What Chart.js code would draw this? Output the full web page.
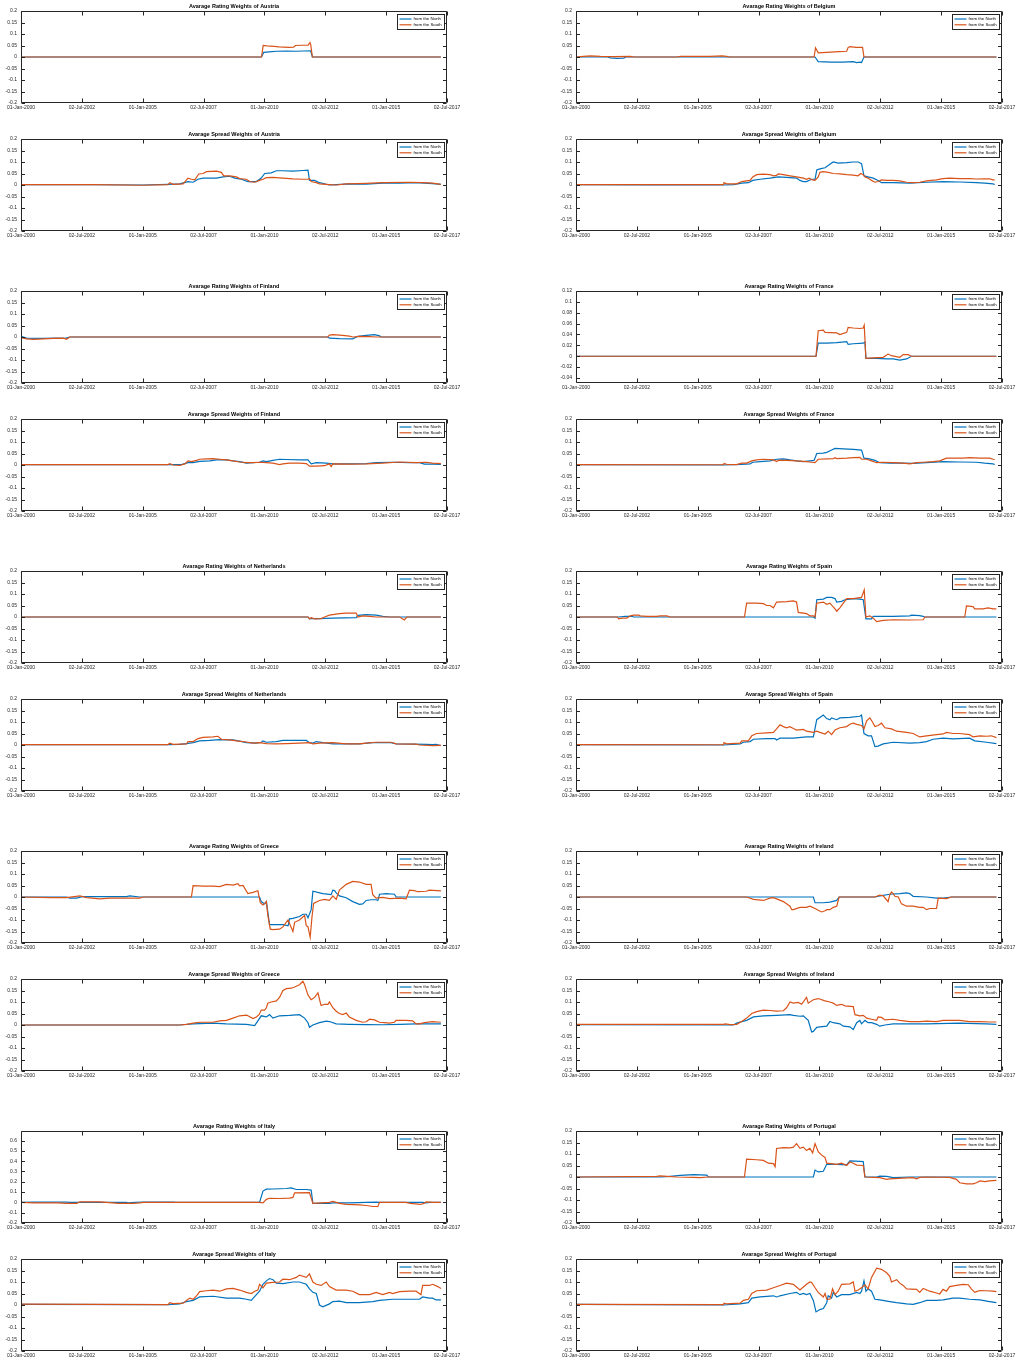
<!DOCTYPE html>
<html>
<head>
<meta charset="utf-8">
<title>Average Rating and Spread Weights</title>
<script src="https://cdn.jsdelivr.net/npm/chart.js@4.4.1/dist/chart.umd.min.js"></script>
<style>
  html, body { margin: 0; padding: 0; background: #ffffff; }
  #page { position: relative; width: 1020px; height: 1361px; overflow: hidden; background: #ffffff; }
  #page canvas { position: absolute; }
</style>
</head>
<body>
<div id="page"></div>
<script>
// ---------------------------------------------------------------------------
// Axis ticks and labels
// ---------------------------------------------------------------------------
const xTickYears = [2000, 2002.5, 2005, 2007.5, 2010, 2012.5, 2015, 2017.5];
const xTickLabels = ['01-Jan-2000', '02-Jul-2002', '01-Jan-2005', '02-Jul-2007',
                     '01-Jan-2010', '02-Jul-2012', '01-Jan-2015', '02-Jul-2017'];
const defaultYTicks = [-0.2, -0.15, -0.1, -0.05, 0, 0.05, 0.1, 0.15, 0.2];
const franceRatingYTicks = [-0.04, -0.02, 0, 0.02, 0.04, 0.06, 0.08, 0.1, 0.12];
const italyRatingYTicks = [-0.2, -0.1, 0, 0.1, 0.2, 0.3, 0.4, 0.5, 0.6];
const seriesNames = ['from the North', 'from the South'];
const leftCountries = ['Austria', 'Finland', 'Netherlands', 'Greece', 'Italy'];
const rightCountries = ['Belgium', 'France', 'Spain', 'Ireland', 'Portugal'];

// ---------------------------------------------------------------------------
// Series: [decimal year, weight]
// ---------------------------------------------------------------------------
const austriaRatingNorth = [[2000,0],[2009.88,0],[2009.97,0.02],[2010.2,0.022],[2010.5,0.025],[2010.9,0.026],[2011.3,0.025],[2011.6,0.026],[2011.9,0.027],[2011.97,0],[2017.25,0]];
const austriaRatingSouth = [[2000,0],[2009.88,0],[2009.95,0.05],[2010.1,0.048],[2010.4,0.046],[2010.6,0.044],[2011.0,0.042],[2011.2,0.043],[2011.27,0.05],[2011.5,0.051],[2011.8,0.052],[2011.87,0.063],[2011.9,0.055],[2011.97,0],[2017.25,0]];
const austriaSpreadNorth = [[2000,0.001],[2003,0.001],[2005,0.0],[2006.04,0.003],[2006.52,0.005],[2006.86,0.015],[2007.07,0.012],[2007.27,0.025],[2007.48,0.03],[2008.03,0.03],[2008.3,0.035],[2008.57,0.038],[2008.78,0.03],[2009.05,0.025],[2009.32,0.015],[2009.67,0.015],[2009.87,0.03],[2010.01,0.05],[2010.28,0.053],[2010.49,0.062],[2010.76,0.062],[2011.17,0.06],[2011.58,0.063],[2011.79,0.065],[2011.85,0.02],[2012.06,0.02],[2012.26,0.01],[2012.67,0.0],[2012.95,0.002],[2013.49,0.005],[2014.18,0.004],[2014.86,0.008],[2015.55,0.008],[2016.23,0.01],[2016.91,0.006],[2017.25,0.003]];
const austriaSpreadSouth = [[2000,0.002],[2003,0.002],[2005,-0.001],[2006.04,0.002],[2006.11,0.01],[2006.25,0.003],[2006.66,0.005],[2006.86,0.03],[2007.0,0.025],[2007.14,0.022],[2007.3,0.048],[2007.48,0.05],[2007.62,0.058],[2008.03,0.06],[2008.23,0.055],[2008.33,0.04],[2008.57,0.04],[2008.85,0.035],[2008.98,0.028],[2009.26,0.025],[2009.39,0.015],[2009.6,0.012],[2009.8,0.02],[2009.94,0.025],[2010.08,0.032],[2010.35,0.033],[2010.76,0.03],[2011.17,0.027],[2011.58,0.025],[2011.79,0.025],[2011.85,0.028],[2011.92,0.015],[2012.13,0.01],[2012.26,0.005],[2012.67,0.002],[2012.95,0.0],[2013.36,0.005],[2014.18,0.007],[2014.86,0.01],[2015.96,0.012],[2016.5,0.01],[2016.91,0.008],[2017.25,0.003]];

const belgiumRatingNorth = [[2000,0],[2001.3,0],[2001.41,-0.004],[2001.7,-0.006],[2001.96,-0.005],[2002.05,0],[2009.82,0],[2009.95,-0.02],[2010.5,-0.022],[2010.98,-0.022],[2011.39,-0.02],[2011.53,-0.024],[2011.66,-0.022],[2011.73,-0.024],[2011.83,0],[2017.27,0]];
const belgiumRatingSouth = [[2000,0],[2000.31,0.003],[2000.6,0.005],[2001.0,0.003],[2001.5,0.002],[2002.23,0.003],[2002.4,0],[2004.14,0],[2004.3,0.003],[2005.5,0.003],[2006.0,0.005],[2006.19,0.003],[2006.3,0],[2009.78,0],[2009.84,0.04],[2009.95,0.018],[2010.3,0.02],[2010.8,0.023],[2011.12,0.025],[2011.18,0.042],[2011.25,0.045],[2011.5,0.042],[2011.77,0.042],[2011.83,0],[2017.27,0]];
const belgiumSpreadNorth = [[2000,0.001],[2003,0.0],[2006.06,0.0],[2006.47,0.002],[2006.81,0.008],[2007.08,0.01],[2007.26,0.02],[2007.56,0.025],[2007.97,0.03],[2008.31,0.035],[2008.65,0.033],[2009.06,0.03],[2009.2,0.02],[2009.34,0.015],[2009.47,0.015],[2009.68,0.025],[2009.82,0.025],[2009.89,0.065],[2010.02,0.07],[2010.23,0.075],[2010.43,0.09],[2010.57,0.1],[2010.77,0.095],[2011.12,0.097],[2011.39,0.1],[2011.59,0.1],[2011.73,0.093],[2011.83,0.04],[2012.0,0.035],[2012.21,0.03],[2012.41,0.02],[2012.55,0.01],[2013.03,0.01],[2013.71,0.008],[2014.4,0.012],[2015.08,0.015],[2015.76,0.013],[2016.45,0.01],[2016.79,0.008],[2017.13,0.005],[2017.2,0.002]];
const belgiumSpreadSouth = [[2000,0.002],[2003,0.002],[2006.06,0.002],[2006.08,0.01],[2006.19,0.005],[2006.6,0.005],[2006.81,0.015],[2007.01,0.018],[2007.15,0.02],[2007.26,0.035],[2007.42,0.045],[2007.7,0.047],[2007.97,0.045],[2008.11,0.04],[2008.24,0.042],[2008.31,0.048],[2008.52,0.045],[2008.79,0.04],[2009.06,0.035],[2009.34,0.03],[2009.47,0.025],[2009.58,0.03],[2009.71,0.022],[2009.82,0.02],[2009.95,0.035],[2010.02,0.055],[2010.16,0.058],[2010.36,0.055],[2010.57,0.05],[2010.84,0.048],[2011.12,0.045],[2011.39,0.043],[2011.59,0.04],[2011.69,0.05],[2011.8,0.045],[2011.87,0.035],[2012.0,0.03],[2012.14,0.02],[2012.28,0.012],[2012.41,0.015],[2012.55,0.022],[2012.76,0.02],[2013.03,0.02],[2013.3,0.018],[2013.58,0.012],[2013.85,0.01],[2014.12,0.012],[2014.4,0.018],[2014.81,0.022],[2015.08,0.028],[2015.35,0.03],[2015.76,0.028],[2016.17,0.028],[2016.45,0.026],[2016.79,0.027],[2016.99,0.027],[2017.13,0.022],[2017.2,0.022]];

const finlandRatingNorth = [[2000,0.003],[2000.23,-0.005],[2000.92,-0.006],[2001.46,-0.005],[2001.8,-0.006],[2002.01,0],[2012.6,0],[2012.67,-0.005],[2013.08,-0.007],[2013.63,-0.008],[2013.84,0.003],[2014.18,0.007],[2014.52,0.01],[2014.73,0.005],[2014.79,0],[2017.25,0]];
const finlandRatingSouth = [[2000,-0.003],[2000.23,-0.008],[2000.51,-0.01],[2000.92,-0.008],[2001.33,-0.006],[2001.74,-0.005],[2001.87,-0.01],[2002.01,0],[2012.6,0],[2012.67,0.008],[2012.81,0.01],[2013.22,0.007],[2013.49,0.004],[2013.63,0.0],[2013.9,0.003],[2014.32,0.002],[2014.59,0],[2017.25,0]];
const finlandSpreadNorth = [[2000,0.002],[2006.04,0.002],[2006.59,0.002],[2006.86,0.01],[2007.07,0.01],[2007.34,0.016],[2007.75,0.018],[2008.03,0.022],[2008.44,0.022],[2008.71,0.018],[2008.98,0.015],[2009.26,0.008],[2009.53,0.01],[2009.8,0.012],[2009.94,0.018],[2010.08,0.015],[2010.35,0.02],[2010.62,0.025],[2010.9,0.024],[2011.44,0.022],[2011.79,0.022],[2011.92,0.005],[2012.13,0.01],[2012.54,0.008],[2012.81,0.005],[2013.49,0.005],[2014.18,0.006],[2014.59,0.01],[2015.27,0.012],[2015.96,0.01],[2016.37,0.01],[2016.57,0.004],[2016.91,0.004],[2017.25,0.003]];
const finlandSpreadSouth = [[2000,0.002],[2006.04,0.002],[2006.11,0.006],[2006.25,0.0],[2006.52,-0.002],[2006.73,0.005],[2006.86,0.018],[2007.0,0.015],[2007.21,0.02],[2007.34,0.025],[2007.62,0.027],[2007.89,0.028],[2008.16,0.025],[2008.44,0.022],[2008.71,0.018],[2008.98,0.013],[2009.26,0.01],[2009.53,0.01],[2009.8,0.012],[2010.08,0.01],[2010.35,0.008],[2010.62,0.002],[2010.76,0.005],[2011.03,0.008],[2011.44,0.008],[2011.72,0.006],[2011.85,-0.005],[2012.13,-0.005],[2012.47,-0.003],[2012.67,0.005],[2012.74,-0.007],[2012.81,0.005],[2013.49,0.004],[2014.18,0.005],[2014.86,0.008],[2015.55,0.013],[2016.23,0.01],[2016.64,0.012],[2016.91,0.008],[2017.25,0.006]];

const franceRatingNorth = [[2000,0],[2009.86,0],[2009.95,0.024],[2010.3,0.024],[2010.71,0.025],[2011.12,0.027],[2011.18,0.022],[2011.39,0.023],[2011.8,0.024],[2011.87,0.026],[2011.91,-0.004],[2012.35,-0.004],[2012.76,-0.005],[2013.03,-0.005],[2013.3,-0.007],[2013.58,-0.005],[2013.78,0],[2017.27,0]];
const franceRatingSouth = [[2000,0],[2009.86,0],[2009.95,0.047],[2010.16,0.048],[2010.23,0.044],[2010.71,0.043],[2010.84,0.04],[2011.12,0.044],[2011.18,0.053],[2011.39,0.052],[2011.66,0.051],[2011.8,0.052],[2011.84,0.057],[2011.91,-0.004],[2012.21,-0.003],[2012.62,-0.002],[2012.82,0.004],[2012.96,0.001],[2013.3,-0.002],[2013.44,0.003],[2013.65,0.003],[2013.78,0],[2017.27,0]];
const franceSpreadNorth = [[2000,0.001],[2006.06,0.0],[2006.81,0.003],[2007.15,0.005],[2007.26,0.012],[2007.56,0.015],[2007.97,0.018],[2008.24,0.025],[2008.52,0.027],[2008.79,0.022],[2009.06,0.018],[2009.34,0.015],[2009.61,0.018],[2009.78,0.02],[2009.89,0.05],[2010.16,0.052],[2010.3,0.055],[2010.5,0.065],[2010.64,0.072],[2010.98,0.07],[2011.39,0.068],[2011.73,0.065],[2011.83,0.03],[2012.0,0.028],[2012.28,0.02],[2012.48,0.01],[2012.89,0.008],[2013.3,0.008],[2013.85,0.007],[2014.4,0.01],[2015.08,0.015],[2015.76,0.013],[2016.45,0.012],[2016.79,0.008],[2017.13,0.005],[2017.2,0.002]];
const franceSpreadSouth = [[2000,0.002],[2006.06,0.001],[2006.08,0.007],[2006.19,0.003],[2006.6,0.002],[2006.81,0.008],[2007.01,0.008],[2007.22,0.018],[2007.42,0.022],[2007.7,0.025],[2008.11,0.022],[2008.24,0.015],[2008.31,0.02],[2008.65,0.02],[2009.06,0.018],[2009.47,0.015],[2009.68,0.012],[2009.82,0.01],[2009.95,0.025],[2010.3,0.027],[2010.57,0.028],[2010.64,0.032],[2010.71,0.028],[2011.12,0.03],[2011.39,0.032],[2011.66,0.033],[2011.73,0.025],[2011.94,0.025],[2012.14,0.018],[2012.35,0.01],[2012.62,0.012],[2013.03,0.01],[2013.44,0.008],[2013.71,0.005],[2013.99,0.01],[2014.26,0.012],[2014.67,0.015],[2014.94,0.018],[2015.22,0.03],[2015.63,0.03],[2015.9,0.03],[2016.17,0.032],[2016.59,0.03],[2016.99,0.03],[2017.13,0.025],[2017.2,0.024]];

const netherlandsRatingNorth = [[2000,0],[2011.79,0],[2011.85,-0.007],[2012.26,-0.007],[2012.81,-0.005],[2013.77,-0.003],[2013.84,0.007],[2014.18,0.01],[2014.59,0.008],[2014.86,0.003],[2015.14,0],[2017.25,0]];
const netherlandsRatingSouth = [[2000,0],[2011.79,0],[2011.85,-0.008],[2011.92,-0.003],[2012.06,-0.008],[2012.33,-0.007],[2012.47,0],[2012.67,0.008],[2013.08,0.015],[2013.36,0.017],[2013.77,0.017],[2013.84,0],[2014.04,0.005],[2014.32,0.003],[2014.59,0],[2015.55,0],[2015.75,-0.013],[2015.85,0],[2017.25,0]];
const netherlandsSpreadNorth = [[2000,0.002],[2006.04,0.002],[2006.52,0.003],[2006.8,0.006],[2007.07,0.01],[2007.34,0.018],[2007.75,0.02],[2008.16,0.023],[2008.71,0.022],[2008.98,0.017],[2009.26,0.01],[2009.67,0.008],[2009.87,0.012],[2009.94,0.018],[2010.08,0.012],[2010.49,0.015],[2010.76,0.02],[2011.17,0.02],[2011.72,0.02],[2011.85,0.01],[2011.99,0.008],[2012.13,0.015],[2012.4,0.01],[2012.81,0.005],[2013.36,0.005],[2013.9,0.005],[2014.45,0.01],[2015.2,0.01],[2015.41,0.005],[2016.09,0.004],[2016.64,0.003],[2016.91,0.002],[2017.05,0.003],[2017.25,-0.002]];
const netherlandsSpreadSouth = [[2000,0.002],[2006.04,0.002],[2006.11,0.008],[2006.25,0.003],[2006.8,0.005],[2006.86,0.015],[2007.07,0.015],[2007.27,0.028],[2007.48,0.033],[2007.89,0.035],[2008.09,0.038],[2008.23,0.025],[2008.57,0.022],[2008.85,0.018],[2009.26,0.013],[2009.53,0.008],[2009.8,0.01],[2010.08,0.006],[2010.49,0.005],[2010.9,0.006],[2011.44,0.008],[2011.85,0.01],[2011.99,0.005],[2012.26,0.008],[2012.81,0.01],[2013.36,0.005],[2013.9,0.005],[2014.18,0.008],[2014.59,0.012],[2015.2,0.012],[2015.41,0.005],[2016.23,0.004],[2016.37,0.0],[2016.91,-0.003],[2017.25,-0.002]];

const spainRatingNorth = [[2000,0],[2001.75,0],[2002.02,0.003],[2002.3,0.003],[2002.37,0],[2009.75,0],[2009.82,-0.005],[2009.89,0.075],[2010.16,0.078],[2010.3,0.085],[2010.5,0.085],[2010.64,0.08],[2010.71,0.065],[2010.91,0.068],[2011.05,0.075],[2011.25,0.078],[2011.39,0.08],[2011.66,0.078],[2011.8,0.075],[2011.91,-0.008],[2012.14,-0.008],[2012.21,0.003],[2012.48,0.003],[2013.03,0.003],[2013.71,0.005],[2013.78,0.008],[2014.12,0.006],[2014.26,0.003],[2014.33,0],[2017.27,0]];
const spainRatingSouth = [[2000,0],[2001.7,0],[2001.75,-0.008],[2001.89,-0.005],[2002.09,-0.005],[2002.23,0.005],[2002.37,0.008],[2002.57,0.008],[2002.64,0.005],[2002.91,0.003],[2003.32,0.003],[2003.46,0.005],[2003.73,0.005],[2003.87,0],[2006.92,0],[2007.01,0.06],[2007.42,0.06],[2007.7,0.058],[2007.83,0.05],[2007.97,0.05],[2008.11,0.04],[2008.24,0.065],[2008.65,0.067],[2008.93,0.07],[2009.06,0.065],[2009.13,0.02],[2009.47,0.015],[2009.61,0.005],[2009.75,0.005],[2009.82,0.0],[2009.89,0.06],[2010.16,0.065],[2010.3,0.055],[2010.43,0.06],[2010.64,0.035],[2010.71,0.025],[2010.84,0.04],[2010.98,0.06],[2011.12,0.08],[2011.39,0.08],[2011.73,0.085],[2011.84,0.118],[2011.91,0.0],[2012.07,0.005],[2012.21,-0.005],[2012.35,-0.02],[2012.62,-0.015],[2013.03,-0.012],[2013.71,-0.013],[2014.26,-0.012],[2014.33,0],[2015.97,0],[2016.04,0.048],[2016.31,0.045],[2016.38,0.035],[2016.72,0.035],[2016.93,0.04],[2017.13,0.035],[2017.27,0.035]];
const spainSpreadNorth = [[2000,0.002],[2006.06,0.0],[2006.74,0.005],[2006.88,0.012],[2007.15,0.015],[2007.29,0.025],[2007.83,0.028],[2008.18,0.028],[2008.24,0.022],[2008.38,0.03],[2008.93,0.03],[2009.47,0.035],[2009.75,0.035],[2009.89,0.11],[2010.16,0.13],[2010.3,0.115],[2010.43,0.11],[2010.5,0.118],[2010.71,0.11],[2010.84,0.118],[2011.25,0.12],[2011.66,0.125],[2011.73,0.13],[2011.83,0.05],[2012.0,0.04],[2012.14,0.04],[2012.28,-0.007],[2012.41,-0.005],[2012.62,0.005],[2013.03,0.012],[2013.71,0.008],[2014.12,0.01],[2014.4,0.015],[2014.67,0.025],[2015.08,0.03],[2015.49,0.027],[2016.17,0.03],[2016.38,0.018],[2016.86,0.012],[2017.27,0.006]];
const spainSpreadSouth = [[2000,0.002],[2006.06,0.001],[2006.08,0.01],[2006.19,0.005],[2006.74,0.008],[2006.81,0.018],[2007.08,0.018],[2007.22,0.04],[2007.42,0.05],[2007.83,0.053],[2008.11,0.055],[2008.24,0.07],[2008.38,0.088],[2008.52,0.08],[2008.65,0.075],[2008.79,0.08],[2008.93,0.072],[2009.06,0.065],[2009.34,0.068],[2009.47,0.06],[2009.75,0.055],[2009.89,0.06],[2010.02,0.055],[2010.23,0.048],[2010.36,0.06],[2010.5,0.045],[2010.64,0.065],[2010.84,0.075],[2011.12,0.08],[2011.25,0.09],[2011.39,0.095],[2011.53,0.09],[2011.73,0.085],[2011.83,0.07],[2011.94,0.105],[2012.07,0.118],[2012.18,0.1],[2012.28,0.08],[2012.41,0.085],[2012.55,0.095],[2012.69,0.075],[2012.96,0.07],[2013.17,0.06],[2013.58,0.055],[2013.85,0.05],[2014.12,0.035],[2014.4,0.04],[2014.81,0.045],[2015.08,0.048],[2015.22,0.055],[2015.49,0.05],[2015.76,0.05],[2016.17,0.045],[2016.31,0.035],[2016.59,0.04],[2016.86,0.038],[2017.06,0.04],[2017.27,0.032]];

const greeceRatingNorth = [[2000,0],[2001.87,0],[2002.0,-0.005],[2002.28,-0.005],[2002.56,0.002],[2003.24,0.002],[2004.33,0.002],[2004.47,0.005],[2004.88,0.0],[2009.8,0],[2009.87,-0.02],[2010.01,-0.03],[2010.08,-0.02],[2010.21,-0.12],[2010.35,-0.12],[2010.76,-0.12],[2010.97,-0.125],[2011.03,-0.095],[2011.17,-0.093],[2011.44,-0.085],[2011.58,-0.075],[2011.72,-0.075],[2011.79,-0.09],[2011.92,-0.055],[2011.99,0.025],[2012.4,0.015],[2012.74,0.01],[2012.81,0.03],[2012.88,0.028],[2012.95,0.018],[2013.08,0.005],[2013.36,-0.003],[2013.63,-0.02],[2013.9,-0.032],[2014.04,-0.03],[2014.18,-0.015],[2014.38,-0.012],[2014.59,-0.012],[2014.66,-0.015],[2014.73,0.012],[2015.0,0.015],[2015.34,0.012],[2015.41,0],[2017.25,0]];
const greeceRatingSouth = [[2000,0],[2001.19,-0.003],[2001.87,-0.003],[2002.42,0.005],[2002.69,-0.003],[2003.24,-0.008],[2003.65,-0.005],[2004.33,-0.005],[2004.88,-0.005],[2005.02,0],[2007.0,0],[2007.07,0.049],[2007.48,0.047],[2007.89,0.047],[2008.16,0.045],[2008.44,0.055],[2008.71,0.052],[2008.91,0.058],[2008.98,0.048],[2009.12,0.05],[2009.32,0.015],[2009.53,0.02],[2009.73,0.027],[2009.83,-0.025],[2009.94,-0.035],[2010.08,-0.02],[2010.14,-0.08],[2010.24,-0.14],[2010.35,-0.142],[2010.62,-0.14],[2010.76,-0.13],[2010.97,-0.1],[2011.17,-0.15],[2011.24,-0.11],[2011.44,-0.1],[2011.65,-0.08],[2011.72,-0.125],[2011.79,-0.13],[2011.88,-0.175],[2011.95,-0.09],[2012.02,-0.028],[2012.26,-0.015],[2012.47,-0.01],[2012.67,-0.015],[2012.81,0.005],[2012.95,-0.01],[2013.08,0.03],[2013.36,0.055],[2013.63,0.068],[2013.9,0.065],[2014.18,0.055],[2014.38,0.055],[2014.45,0.01],[2014.59,-0.005],[2014.86,-0.002],[2015.14,-0.007],[2015.55,-0.005],[2015.82,-0.008],[2015.96,0.03],[2016.16,0.028],[2016.3,0.023],[2016.64,0.025],[2016.78,0.03],[2017.25,0.027]];
const greeceSpreadNorth = [[2000,0],[2006.5,0],[2007.07,0.005],[2007.89,0.008],[2008.44,0.005],[2009.26,0.003],[2009.6,-0.003],[2009.87,0.04],[2010.08,0.035],[2010.21,0.045],[2010.35,0.03],[2010.62,0.04],[2011.03,0.042],[2011.44,0.045],[2011.65,0.03],[2011.79,0.01],[2011.85,-0.01],[2011.99,0.0],[2012.26,0.01],[2012.54,0.017],[2012.67,0.015],[2012.95,0.005],[2013.49,0.003],[2014.18,0.002],[2014.86,0.001],[2015.55,0.003],[2016.23,0.005],[2016.91,0.005],[2017.25,0.005]];
const greeceSpreadSouth = [[2000,0],[2006.52,0],[2006.8,0.003],[2007.07,0.008],[2007.34,0.012],[2007.89,0.012],[2008.16,0.018],[2008.44,0.02],[2008.71,0.03],[2008.98,0.04],[2009.26,0.043],[2009.32,0.04],[2009.53,0.028],[2009.67,0.035],[2009.78,0.045],[2009.87,0.065],[2010.01,0.065],[2010.08,0.075],[2010.14,0.095],[2010.28,0.1],[2010.49,0.105],[2010.62,0.12],[2010.76,0.15],[2010.9,0.158],[2011.1,0.16],[2011.24,0.165],[2011.44,0.175],[2011.58,0.19],[2011.65,0.175],[2011.79,0.13],[2011.92,0.11],[2012.06,0.12],[2012.2,0.14],[2012.29,0.1],[2012.33,0.085],[2012.47,0.09],[2012.61,0.09],[2012.67,0.1],[2012.81,0.075],[2012.95,0.06],[2013.08,0.05],[2013.22,0.045],[2013.36,0.052],[2013.49,0.035],[2013.77,0.02],[2014.04,0.012],[2014.18,0.014],[2014.32,0.025],[2014.52,0.022],[2014.73,0.012],[2014.93,0.01],[2015.14,0.008],[2015.34,0.012],[2015.41,0.02],[2015.82,0.02],[2016.09,0.018],[2016.23,0.005],[2016.37,0.005],[2016.57,0.01],[2016.91,0.015],[2017.25,0.012]];

const irelandRatingNorth = [[2000,0],[2009.75,0],[2009.82,-0.025],[2010.16,-0.025],[2010.43,-0.022],[2010.71,-0.015],[2010.81,0],[2012.28,0],[2012.48,0.005],[2012.89,0.012],[2013.3,0.015],[2013.58,0.018],[2013.71,0.015],[2013.85,0.003],[2014.4,0.0],[2014.81,-0.005],[2015.08,-0.005],[2015.42,0],[2017.27,0]];
const irelandRatingSouth = [[2000,0],[2007.01,0],[2007.29,-0.01],[2007.7,-0.015],[2007.97,-0.005],[2008.11,-0.003],[2008.24,-0.008],[2008.52,-0.02],[2008.79,-0.04],[2008.86,-0.055],[2008.93,-0.055],[2009.2,-0.045],[2009.47,-0.045],[2009.61,-0.04],[2009.82,-0.05],[2009.95,-0.058],[2010.09,-0.065],[2010.23,-0.06],[2010.3,-0.055],[2010.43,-0.055],[2010.57,-0.045],[2010.71,-0.04],[2010.81,0],[2012.28,0],[2012.48,0.008],[2012.62,0.005],[2012.82,-0.02],[2012.89,0.01],[2012.96,0.022],[2013.03,0.015],[2013.1,0.003],[2013.24,0.0],[2013.37,-0.03],[2013.58,-0.04],[2013.85,-0.04],[2014.12,-0.045],[2014.26,-0.045],[2014.4,-0.055],[2014.53,-0.05],[2014.81,-0.05],[2014.88,-0.005],[2015.22,-0.007],[2015.42,0],[2017.27,0]];
const irelandSpreadNorth = [[2000,0.002],[2006.47,0.0],[2006.6,0.008],[2006.81,0.015],[2007.01,0.02],[2007.29,0.035],[2007.7,0.04],[2008.24,0.042],[2008.79,0.045],[2008.93,0.042],[2009.2,0.038],[2009.34,0.04],[2009.54,0.02],[2009.68,-0.03],[2009.75,-0.028],[2009.89,-0.01],[2010.02,-0.008],[2010.3,-0.005],[2010.43,0.015],[2010.57,0.01],[2010.84,0.005],[2010.98,-0.005],[2011.25,-0.008],[2011.39,-0.02],[2011.53,0.01],[2011.66,0.02],[2011.73,0.005],[2011.87,0.02],[2012.0,0.01],[2012.14,0.01],[2012.35,0.003],[2012.48,-0.005],[2012.69,0.0],[2013.03,0.005],[2013.71,0.005],[2014.4,0.005],[2015.76,0.008],[2016.45,0.006],[2016.86,0.005],[2017.27,0.003]];
const irelandSpreadSouth = [[2000,0.003],[2006.06,0.003],[2006.13,0.005],[2006.33,0.002],[2006.6,0.003],[2006.81,0.015],[2007.01,0.03],[2007.22,0.05],[2007.42,0.058],[2007.7,0.065],[2007.97,0.063],[2008.24,0.06],[2008.52,0.062],[2008.65,0.075],[2008.79,0.1],[2008.93,0.095],[2009.13,0.098],[2009.27,0.09],[2009.47,0.12],[2009.54,0.095],[2009.75,0.11],[2009.95,0.115],[2010.23,0.105],[2010.43,0.1],[2010.57,0.095],[2010.71,0.085],[2010.91,0.09],[2011.05,0.083],[2011.39,0.08],[2011.46,0.045],[2011.66,0.04],[2011.8,0.042],[2011.94,0.03],[2012.14,0.025],[2012.35,0.02],[2012.41,0.035],[2012.55,0.033],[2012.69,0.022],[2013.03,0.025],[2013.3,0.02],[2013.71,0.015],[2014.12,0.015],[2014.4,0.017],[2014.81,0.015],[2015.08,0.02],[2015.76,0.02],[2016.17,0.015],[2016.59,0.015],[2016.99,0.013],[2017.27,0.013]];

const italyRatingNorth = [[2000,0],[2000.51,0.003],[2001.2,0.002],[2001.87,0.004],[2002.0,0],[2004.33,0],[2004.4,-0.004],[2004.7,0],[2005.02,0.004],[2006.25,0.004],[2006.35,0],[2009.8,0],[2009.94,0.11],[2010.08,0.128],[2010.35,0.13],[2010.9,0.135],[2011.1,0.14],[2011.31,0.125],[2011.72,0.125],[2011.92,0.12],[2011.99,-0.01],[2012.26,-0.01],[2012.67,-0.01],[2012.81,-0.005],[2013.49,-0.005],[2014.18,0.0],[2014.59,0.003],[2014.73,0],[2016.5,0],[2016.64,-0.005],[2016.78,0],[2017.25,0]];
const italyRatingSouth = [[2000,0],[2000.51,-0.005],[2001.5,-0.005],[2001.87,-0.01],[2002.28,-0.01],[2002.42,0.005],[2003.24,0.005],[2003.5,0],[2004.0,-0.01],[2004.6,-0.01],[2004.88,-0.005],[2005.02,0],[2009.8,0],[2009.94,-0.005],[2010.08,0.03],[2010.21,0.04],[2010.62,0.038],[2011.03,0.042],[2011.17,0.048],[2011.24,0.093],[2011.85,0.095],[2011.99,-0.01],[2012.67,0.0],[2012.81,0.01],[2012.95,0.0],[2013.08,-0.01],[2013.36,-0.02],[2013.9,-0.025],[2014.18,-0.03],[2014.45,-0.04],[2014.66,-0.04],[2014.73,0],[2015.8,0],[2016.0,-0.01],[2016.4,-0.02],[2016.55,-0.01],[2016.64,0.005],[2016.91,0.0],[2017.25,0]];
const italySpreadNorth = [[2000,0.003],[2006.04,0.002],[2006.52,0.005],[2006.8,0.015],[2007.07,0.02],[2007.34,0.035],[2007.89,0.038],[2008.44,0.03],[2008.98,0.03],[2009.26,0.025],[2009.46,0.02],[2009.67,0.045],[2009.8,0.06],[2009.94,0.09],[2010.08,0.105],[2010.21,0.115],[2010.35,0.11],[2010.49,0.095],[2010.76,0.093],[2011.17,0.1],[2011.44,0.1],[2011.72,0.09],[2011.85,0.07],[2011.99,0.055],[2012.13,0.05],[2012.26,0.0],[2012.4,-0.008],[2012.67,0.005],[2012.81,0.015],[2013.08,0.017],[2013.36,0.01],[2013.9,0.01],[2014.45,0.015],[2014.73,0.02],[2015.27,0.025],[2015.96,0.025],[2016.37,0.025],[2016.5,0.035],[2016.78,0.03],[2016.91,0.03],[2017.05,0.022],[2017.25,0.022]];
const italySpreadSouth = [[2000,0.004],[2006.04,0.002],[2006.11,0.01],[2006.25,0.006],[2006.66,0.008],[2006.8,0.02],[2006.93,0.03],[2007.07,0.025],[2007.21,0.04],[2007.34,0.058],[2007.62,0.062],[2007.89,0.065],[2008.16,0.06],[2008.44,0.07],[2008.71,0.072],[2008.98,0.065],[2009.26,0.055],[2009.46,0.05],[2009.6,0.06],[2009.73,0.065],[2009.8,0.09],[2009.94,0.075],[2010.08,0.095],[2010.35,0.098],[2010.62,0.1],[2010.76,0.112],[2011.03,0.11],[2011.31,0.12],[2011.44,0.13],[2011.58,0.125],[2011.72,0.12],[2011.85,0.135],[2011.99,0.1],[2012.13,0.09],[2012.33,0.085],[2012.54,0.1],[2012.67,0.08],[2012.95,0.065],[2013.36,0.065],[2013.63,0.06],[2013.9,0.045],[2014.32,0.045],[2014.59,0.055],[2014.86,0.045],[2015.14,0.055],[2015.27,0.05],[2015.55,0.058],[2015.96,0.06],[2016.23,0.06],[2016.43,0.045],[2016.5,0.085],[2016.78,0.085],[2016.91,0.09],[2017.12,0.08],[2017.25,0.072]];

const portugalRatingNorth = [[2000,0],[2003.5,0],[2003.87,0.003],[2004.28,0.007],[2004.83,0.01],[2005.37,0.008],[2005.44,0],[2009.75,0],[2009.82,0.03],[2009.95,0.022],[2010.16,0.025],[2010.3,0.055],[2010.71,0.055],[2011.12,0.053],[2011.25,0.07],[2011.66,0.068],[2011.8,0.067],[2011.87,0],[2012.35,0],[2012.48,0.004],[2012.76,0.003],[2013.03,-0.003],[2013.71,0],[2017.27,0]];
const portugalRatingSouth = [[2000,0],[2003.32,0.003],[2003.46,0.005],[2003.73,0.003],[2004.14,0],[2004.83,-0.002],[2005.1,-0.003],[2005.44,0],[2006.92,0],[2007.01,0.078],[2007.42,0.075],[2007.7,0.072],[2007.9,0.06],[2008.11,0.058],[2008.18,0.045],[2008.24,0.124],[2008.52,0.128],[2008.79,0.127],[2008.93,0.13],[2009.06,0.145],[2009.2,0.125],[2009.34,0.13],[2009.47,0.115],[2009.61,0.125],[2009.72,0.105],[2009.82,0.145],[2009.95,0.11],[2010.09,0.095],[2010.23,0.085],[2010.3,0.06],[2010.71,0.055],[2010.91,0.06],[2011.12,0.05],[2011.25,0.065],[2011.39,0.06],[2011.53,0.052],[2011.8,0.05],[2011.87,0],[2012.48,-0.003],[2012.76,-0.01],[2012.89,-0.008],[2013.44,-0.005],[2013.85,-0.003],[2013.99,-0.008],[2014.12,-0.002],[2014.4,0],[2015.35,-0.002],[2015.63,-0.01],[2015.76,-0.025],[2016.04,-0.03],[2016.31,-0.03],[2016.45,-0.025],[2016.59,-0.017],[2016.79,-0.02],[2016.99,-0.017],[2017.27,-0.015]];
const portugalSpreadNorth = [[2000,0.003],[2006.06,0.0],[2006.74,0.005],[2007.08,0.01],[2007.22,0.03],[2007.56,0.035],[2008.11,0.04],[2008.24,0.035],[2008.38,0.04],[2008.79,0.05],[2009.06,0.055],[2009.2,0.045],[2009.34,0.05],[2009.47,0.045],[2009.61,0.05],[2009.75,0.02],[2009.86,-0.03],[2010.02,-0.02],[2010.16,-0.015],[2010.3,0.01],[2010.36,0.04],[2010.5,0.03],[2010.57,0.055],[2010.71,0.035],[2010.91,0.045],[2011.25,0.045],[2011.53,0.055],[2011.66,0.05],[2011.73,0.06],[2011.83,0.105],[2011.91,0.06],[2012.0,0.07],[2012.14,0.06],[2012.28,0.025],[2012.48,0.022],[2012.89,0.015],[2013.17,0.01],[2013.58,0.005],[2013.85,0.003],[2014.12,0.01],[2014.4,0.02],[2014.81,0.02],[2015.08,0.022],[2015.49,0.03],[2015.76,0.03],[2016.17,0.025],[2016.59,0.022],[2016.99,0.015],[2017.27,0.01]];
const portugalSpreadSouth = [[2000,0.003],[2006.06,0.002],[2006.08,0.008],[2006.19,0.005],[2006.74,0.008],[2006.88,0.02],[2007.08,0.025],[2007.22,0.05],[2007.42,0.062],[2007.83,0.065],[2008.11,0.075],[2008.38,0.085],[2008.65,0.095],[2008.93,0.09],[2009.06,0.078],[2009.2,0.065],[2009.47,0.09],[2009.61,0.1],[2009.68,0.098],[2009.82,0.075],[2009.95,0.055],[2010.16,0.035],[2010.23,0.05],[2010.3,0.025],[2010.43,0.025],[2010.54,0.07],[2010.64,0.045],[2010.77,0.06],[2010.91,0.09],[2011.25,0.092],[2011.39,0.1],[2011.46,0.06],[2011.59,0.065],[2011.73,0.075],[2011.87,0.088],[2012.0,0.07],[2012.14,0.12],[2012.35,0.16],[2012.55,0.155],[2012.76,0.14],[2012.89,0.125],[2012.96,0.1],[2013.17,0.11],[2013.3,0.095],[2013.44,0.085],[2013.58,0.07],[2013.99,0.068],[2014.12,0.055],[2014.26,0.072],[2014.53,0.06],[2014.81,0.052],[2014.94,0.048],[2015.08,0.068],[2015.22,0.06],[2015.35,0.08],[2015.63,0.085],[2015.9,0.09],[2016.11,0.088],[2016.24,0.07],[2016.38,0.055],[2016.45,0.058],[2016.59,0.063],[2016.86,0.062],[2017.13,0.06],[2017.27,0.058]];

// ---------------------------------------------------------------------------
// Panel table (built from the arrays above)
// ---------------------------------------------------------------------------
const panels = [
  { country: 'Austria',     kind: 'Rating', north: austriaRatingNorth,     south: austriaRatingSouth },
  { country: 'Austria',     kind: 'Spread', north: austriaSpreadNorth,     south: austriaSpreadSouth },
  { country: 'Belgium',     kind: 'Rating', north: belgiumRatingNorth,     south: belgiumRatingSouth },
  { country: 'Belgium',     kind: 'Spread', north: belgiumSpreadNorth,     south: belgiumSpreadSouth },
  { country: 'Finland',     kind: 'Rating', north: finlandRatingNorth,     south: finlandRatingSouth },
  { country: 'Finland',     kind: 'Spread', north: finlandSpreadNorth,     south: finlandSpreadSouth },
  { country: 'France',      kind: 'Rating', north: franceRatingNorth,      south: franceRatingSouth,
    yMin: -0.0492, yMax: 0.12, yTicks: franceRatingYTicks },
  { country: 'France',      kind: 'Spread', north: franceSpreadNorth,      south: franceSpreadSouth },
  { country: 'Netherlands', kind: 'Rating', north: netherlandsRatingNorth, south: netherlandsRatingSouth },
  { country: 'Netherlands', kind: 'Spread', north: netherlandsSpreadNorth, south: netherlandsSpreadSouth },
  { country: 'Spain',       kind: 'Rating', north: spainRatingNorth,       south: spainRatingSouth },
  { country: 'Spain',       kind: 'Spread', north: spainSpreadNorth,       south: spainSpreadSouth },
  { country: 'Greece',      kind: 'Rating', north: greeceRatingNorth,      south: greeceRatingSouth },
  { country: 'Greece',      kind: 'Spread', north: greeceSpreadNorth,      south: greeceSpreadSouth },
  { country: 'Ireland',     kind: 'Rating', north: irelandRatingNorth,     south: irelandRatingSouth },
  { country: 'Ireland',     kind: 'Spread', north: irelandSpreadNorth,     south: irelandSpreadSouth },
  { country: 'Italy',       kind: 'Rating', north: italyRatingNorth,       south: italyRatingSouth,
    yMin: -0.2, yMax: 0.693, yTicks: italyRatingYTicks },
  { country: 'Italy',       kind: 'Spread', north: italySpreadNorth,       south: italySpreadSouth },
  { country: 'Portugal',    kind: 'Rating', north: portugalRatingNorth,    south: portugalRatingSouth },
  { country: 'Portugal',    kind: 'Spread', north: portugalSpreadNorth,    south: portugalSpreadSouth }
];

// ---------------------------------------------------------------------------
// Layout of the 10 x 2 grid of axes (page pixels)
// ---------------------------------------------------------------------------
const COL_X = [21, 576];
const PLOT_W = 426, PLOT_H = 92;
const ROW_STEP = 280, RATING_TOP = 11, SPREAD_TOP = 139;
const PAD_L = 26, PAD_T = 14, PAD_R = 22, PAD_B = 12;

const NORTH_COLOR = '#0072BD';
const SOUTH_COLOR = '#D95319';
const AXIS_COLOR = '#262626';
const FONT = '"Liberation Sans", Arial, Helvetica, sans-serif';

const fmtTick = v => String(Math.round(v * 1000) / 1000);
const toPoints = arr => arr.map(p => ({ x: p[0], y: p[1] }));

// Draws the boxed axes with inward ticks, the bold title and the legend box.
const boxedAxes = {
  id: 'boxedAxes',
  afterDraw(chart, args, opts) {
    const { ctx, chartArea: a, scales } = chart;
    const xs = scales.x, ys = scales.y;
    const L = Math.round(a.left) + 0.5, R = Math.round(a.right) - 0.5;
    const T = Math.round(a.top) + 0.5, B = Math.round(a.bottom) - 0.5;
    ctx.save();
    ctx.strokeStyle = AXIS_COLOR;
    ctx.lineWidth = 1;
    ctx.beginPath();
    ctx.rect(L, T, R - L, B - T);
    xTickYears.forEach(v => {
      const px = Math.round(xs.getPixelForValue(v)) + 0.5;
      ctx.moveTo(px, B); ctx.lineTo(px, B - 4);
      ctx.moveTo(px, T); ctx.lineTo(px, T + 4);
    });
    ys.ticks.forEach(t => {
      const py = Math.round(ys.getPixelForValue(t.value)) + 0.5;
      ctx.moveTo(L, py); ctx.lineTo(L + 3.5, py);
      ctx.moveTo(R, py); ctx.lineTo(R - 3.5, py);
    });
    ctx.stroke();

    // title
    ctx.fillStyle = '#000000';
    ctx.font = 'bold 5.5px ' + FONT;
    ctx.textAlign = 'center';
    ctx.textBaseline = 'middle';
    ctx.fillText(opts.title, (a.left + a.right) / 2, a.top - 4.5);

    // legend
    const bw = 47, bh = 15;
    const bx = Math.round(a.right - 3 - bw) + 0.5, by = Math.round(a.top + 3) + 0.5;
    ctx.fillStyle = '#ffffff';
    ctx.fillRect(bx, by, bw, bh);
    ctx.strokeStyle = AXIS_COLOR;
    ctx.lineWidth = 1;
    ctx.strokeRect(bx, by, bw, bh);
    ctx.font = '4.3px ' + FONT;
    ctx.textAlign = 'left';
    chart.data.datasets.forEach((ds, i) => {
      const ly = by + 4.5 + i * 5.8;
      ctx.strokeStyle = ds.borderColor;
      ctx.lineWidth = 1.2;
      ctx.beginPath();
      ctx.moveTo(bx + 2, ly);
      ctx.lineTo(bx + 14, ly);
      ctx.stroke();
      ctx.fillStyle = '#000000';
      ctx.fillText(ds.label, bx + 16, ly);
    });
    ctx.restore();
  }
};

const page = document.getElementById('page');

panels.forEach(p => {
  const left = leftCountries.indexOf(p.country);
  const col = left >= 0 ? 0 : 1;
  const row = left >= 0 ? left : rightCountries.indexOf(p.country);
  const plotX = COL_X[col];
  const plotY = row * ROW_STEP + (p.kind === 'Rating' ? RATING_TOP : SPREAD_TOP);

  const canvas = document.createElement('canvas');
  canvas.width = PLOT_W + PAD_L + PAD_R;
  canvas.height = PLOT_H + PAD_T + PAD_B;
  canvas.style.left = (plotX - PAD_L) + 'px';
  canvas.style.top = (plotY - PAD_T) + 'px';
  canvas.style.width = canvas.width + 'px';
  canvas.style.height = canvas.height + 'px';
  page.appendChild(canvas);

  const yTicks = p.yTicks || defaultYTicks;
  const yMin = p.yMin !== undefined ? p.yMin : -0.2;
  const yMax = p.yMax !== undefined ? p.yMax : 0.2;

  new Chart(canvas.getContext('2d'), {
    type: 'line',
    data: {
      datasets: [
        // the South series is drawn over the North one (lower order = on top)
        { label: seriesNames[0], data: toPoints(p.north), borderColor: NORTH_COLOR, order: 2,
          borderWidth: 1.2, pointRadius: 0, tension: 0, fill: false },
        { label: seriesNames[1], data: toPoints(p.south), borderColor: SOUTH_COLOR, order: 1,
          borderWidth: 1.2, pointRadius: 0, tension: 0, fill: false }
      ]
    },
    options: {
      responsive: false,
      animation: false,
      devicePixelRatio: 1,
      events: [],
      layout: { padding: { left: 0, right: PAD_R, top: PAD_T, bottom: 0 }, autoPadding: false },
      plugins: {
        legend: { display: false },
        title: { display: false },
        tooltip: { enabled: false },
        boxedAxes: { title: 'Avarage ' + p.kind + ' Weights of ' + p.country }
      },
      scales: {
        x: {
          type: 'linear', min: 2000, max: 2017.5,
          afterBuildTicks: s => { s.ticks = xTickYears.map(v => ({ value: v })); },
          afterFit: s => { s.height = PAD_B; s.paddingLeft = 0; s.paddingRight = 0; },
          grid: { display: false, drawTicks: false, tickLength: 0 },
          border: { display: false },
          ticks: {
            autoSkip: false, maxRotation: 0, minRotation: 0, padding: 2,
            color: AXIS_COLOR, font: { family: FONT, size: 5 },
            callback: v => xTickLabels[xTickYears.indexOf(v)]
          }
        },
        y: {
          type: 'linear', min: yMin, max: yMax,
          afterBuildTicks: s => { s.ticks = yTicks.map(v => ({ value: v })); },
          afterFit: s => { s.width = PAD_L; s.paddingTop = 0; s.paddingBottom = 0; },
          grid: { display: false, drawTicks: false, tickLength: 0 },
          border: { display: false },
          ticks: {
            autoSkip: false, padding: 4,
            color: AXIS_COLOR, font: { family: FONT, size: 5 },
            callback: v => fmtTick(v)
          }
        }
      }
    },
    plugins: [boxedAxes]
  });
});
</script>
</body>
</html>
